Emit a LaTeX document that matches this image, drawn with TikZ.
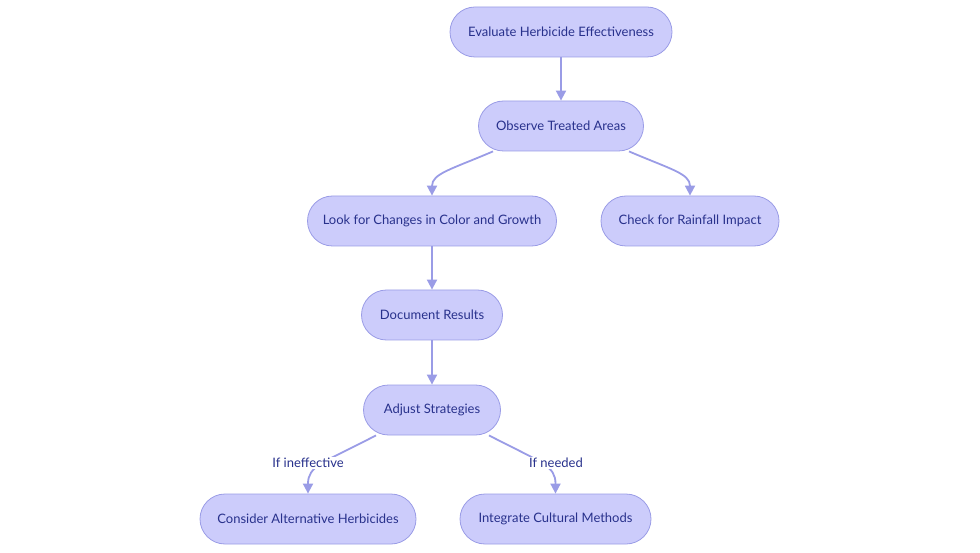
\documentclass[tikz,border=0pt]{standalone}
\usepackage{fontspec}
\setmainfont{Lato}
\usetikzlibrary{arrows.meta,calc}
\definecolor{nodefill}{HTML}{CCCCFB}
\definecolor{nodeline}{HTML}{9A9CE6}
\definecolor{txt}{HTML}{28318C}
\definecolor{edge}{HTML}{9A9CE6}
\begin{document}
\begin{tikzpicture}[x=1pt,y=-1pt,
  box/.style={draw=nodeline,fill=nodefill,line width=0.8pt,rounded corners=25pt,
    minimum height=50pt,inner sep=0pt,text=txt,font=\fontsize{13}{15}\selectfont},
  conn/.style={draw=edge,line width=1.8pt,-{Triangle[length=10pt,width=10pt]}},
  elabel/.style={fill=white,inner sep=1.5pt,text=txt,font=\fontsize{13}{15}\selectfont}]
\useasboundingbox (0,0) rectangle (980,553);
\node[box,minimum width=222pt] (n1) at (561,32) {Evaluate Herbicide Effectiveness};
\node[box,minimum width=165pt] (n2) at (561,126) {Observe Treated Areas};
\node[box,minimum width=249pt] (n3) at (432,221) {Look for Changes in Color and Growth};
\node[box,minimum width=178pt] (n4) at (690,221) {Check for Rainfall Impact};
\node[box,minimum width=141pt] (n5) at (432,315) {Document Results};
\node[box,minimum width=137pt] (n6) at (432,410) {Adjust Strategies};
\node[box,minimum width=216pt] (n7) at (308,519) {Consider Alternative Herbicides};
\node[box,minimum width=191pt] (n8) at (555.5,519) {Integrate Cultural Methods};
\draw[conn] (n1) -- (n2);
\draw[conn] ($(n2.south)+(-68,0)$) .. controls ($(n2.south)+(-110,18)$) and ($(n3.north)+(0,-22)$) .. (n3.north);
\draw[conn] ($(n2.south)+(68,0)$) .. controls ($(n2.south)+(110,18)$) and ($(n4.north)+(0,-22)$) .. (n4.north);
\draw[conn] (n3) -- (n5);
\draw[conn] (n5) -- (n6);
\draw[conn] ($(n6.south)+(-56,0)$) .. controls ($(n6.south)+(-110,28)$) and ($(n7.north)+(0,-28)$) .. (n7.north);
\draw[conn] ($(n6.south)+(57,0)$) .. controls ($(n6.south)+(111,28)$) and ($(n8.north)+(0,-28)$) .. (n8.north);
\node[elabel] (l1) at (308,463) {If ineffective};
\node[elabel] (l2) at (556,463) {If needed};
\end{tikzpicture}
\end{document}
